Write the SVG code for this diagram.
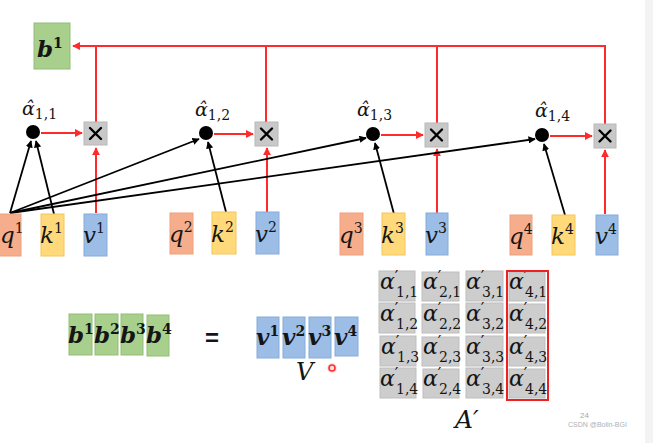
<svg xmlns="http://www.w3.org/2000/svg" width="653" height="443" viewBox="0 0 653 443">
<defs>
<marker id="ar" viewBox="0 0 10 10" refX="9" refY="5" markerWidth="4" markerHeight="4" orient="auto-start-reverse"><path d="M0,0 L10,5 L0,10 z" fill="#ff2a2a"/></marker>
<marker id="ab" viewBox="0 0 10 10" refX="9" refY="5" markerWidth="4" markerHeight="4" orient="auto"><path d="M0,0 L10,5 L0,10 z" fill="#000"/></marker>
<style>
.q{fill:#f6ad8c;stroke:#eea07c;stroke-width:1}
.k{fill:#ffd97a;stroke:#f4c65a;stroke-width:1}
.v{fill:#9bbde6;stroke:#86abdb;stroke-width:1}
.g{fill:#a8cf8c;stroke:#93bd78;stroke-width:1}
.c{fill:#cdcdcd;stroke:#bdbdbd;stroke-width:1}
.m{fill:#c8c8c8;stroke:#b8b8b8;stroke-width:1}
.x{stroke:#000;stroke-width:2.4;stroke-linecap:round}
.r{stroke:#ff2a2a;stroke-width:2;fill:none}
.bl{stroke:#000;stroke-width:1.8;fill:none}
text{font-family:"DejaVu Serif",serif;fill:#151515}
.it{font-style:italic}
.bi{font-style:italic;font-weight:bold}
.L{font-size:23px}
.up{font-style:normal;font-weight:normal}
.sup{font-size:14px;font-style:normal}
.bsup{font-size:14px;font-style:normal;font-weight:bold}
.A{font-size:19px}
.sub{font-size:14px;font-style:normal}
.cell{font-size:22px}
.pr{font-size:16px;font-style:normal}
</style>
</defs>
<rect x="0" y="0" width="653" height="443" fill="#ffffff"/>
<rect x="645" y="0" width="8" height="443" fill="#f3f3f3"/>

<g id="connectors">
<path class="r" d="M605,124 V46 H73" marker-end="url(#ar)"/>
<path class="r" d="M96,122 V47"/>
<path class="r" d="M266,122 V46"/>
<path class="r" d="M437,123 V46"/>
<path class="r" d="M41,133 H82" marker-end="url(#ar)"/>
<path class="r" d="M214,134 H253" marker-end="url(#ar)"/>
<path class="r" d="M381,135 H423" marker-end="url(#ar)"/>
<path class="r" d="M550,136 H592" marker-end="url(#ar)"/>
<path class="r" d="M96,213 V148" marker-end="url(#ar)"/>
<path class="r" d="M267,212 V148" marker-end="url(#ar)"/>
<path class="r" d="M437,213 V149" marker-end="url(#ar)"/>
<path class="r" d="M605,214 V150" marker-end="url(#ar)"/>
<path class="bl" d="M10,213 L31,141" marker-end="url(#ab)"/>
<path class="bl" d="M54,214 L36,141" marker-end="url(#ab)"/>
<path class="bl" d="M10,213 L199,139" marker-end="url(#ab)"/>
<path class="bl" d="M10,213 L366,138" marker-end="url(#ab)"/>
<path class="bl" d="M10,213 L535,139" marker-end="url(#ab)"/>
<path class="bl" d="M226,212 L208,142" marker-end="url(#ab)"/>
<path class="bl" d="M394,214 L375,143" marker-end="url(#ab)"/>
<path class="bl" d="M565,215 L544,144" marker-end="url(#ab)"/>
</g>

<g id="b1top">
<rect class="g" x="34" y="23" width="36" height="46"/>
<text class="bi" x="37" y="57" font-size="23">b<tspan class="bsup" dy="-9">1</tspan></text>
</g>

<g id="alpha-hat-1">
<circle cx="33" cy="132" r="7" fill="#000"/>
<text class="it A" x="22" y="115">α̂<tspan class="sub" dy="4">1,1</tspan></text>
</g>
<g id="alpha-hat-2">
<circle cx="206" cy="133" r="7" fill="#000"/>
<text class="it A" x="195" y="116">α̂<tspan class="sub" dy="4">1,2</tspan></text>
</g>
<g id="alpha-hat-3">
<circle cx="373" cy="134" r="7" fill="#000"/>
<text class="it A" x="357" y="116">α̂<tspan class="sub" dy="4">1,3</tspan></text>
</g>
<g id="alpha-hat-4">
<circle cx="542" cy="135" r="7" fill="#000"/>
<text class="it A" x="535" y="117">α̂<tspan class="sub" dy="4">1,4</tspan></text>
</g>

<g id="mul1"><rect class="m" x="84" y="122" width="23" height="23"/><path class="x" d="M90,128 L101,139 M101,128 L90,139"/></g>
<g id="mul2"><rect class="m" x="255" y="122" width="23" height="24"/><path class="x" d="M261,128.5 L272,139.5 M272,128.5 L261,139.5"/></g>
<g id="mul3"><rect class="m" x="425" y="123" width="23" height="24"/><path class="x" d="M431,129.5 L442,140.5 M442,129.5 L431,140.5"/></g>
<g id="mul4"><rect class="m" x="594" y="124" width="22" height="24"/><path class="x" d="M599.5,130.5 L610.5,141.5 M610.5,130.5 L599.5,141.5"/></g>

<g id="q1"><rect class="q" x="-2" y="214" width="23" height="42"/><text class="it L" x="0" y="243">q<tspan class="sup" dy="-10">1</tspan></text></g>
<g id="k1"><rect class="k" x="41" y="214" width="23" height="42"/><text class="it L" x="40" y="243">k<tspan class="sup" dy="-10">1</tspan></text></g>
<g id="v1"><rect class="v" x="84" y="214" width="23" height="42"/><text class="it L" x="83" y="243">v<tspan class="sup" dy="-10">1</tspan></text></g>
<g id="q2"><rect class="q" x="170" y="213" width="23" height="41"/><text class="it L" x="169" y="242">q<tspan class="sup" dy="-10">2</tspan></text></g>
<g id="k2"><rect class="k" x="212" y="212" width="24" height="42"/><text class="it L" x="211" y="242">k<tspan class="sup" dy="-10">2</tspan></text></g>
<g id="v2"><rect class="v" x="256" y="212" width="23" height="42"/><text class="it L" x="255" y="242">v<tspan class="sup" dy="-10">2</tspan></text></g>
<g id="q3"><rect class="q" x="340" y="213" width="23" height="42"/><text class="it L" x="339" y="243">q<tspan class="sup" dy="-10">3</tspan></text></g>
<g id="k3"><rect class="k" x="382" y="213" width="23" height="42"/><text class="it L" x="381" y="243">k<tspan class="sup" dy="-10">3</tspan></text></g>
<g id="v3"><rect class="v" x="426" y="213" width="22" height="42"/><text class="it L" x="425" y="243">v<tspan class="sup" dy="-10">3</tspan></text></g>
<g id="q4"><rect class="q" x="510" y="215" width="22" height="40"/><text class="it L" x="509" y="244">q<tspan class="sup" dy="-10">4</tspan></text></g>
<g id="k4"><rect class="k" x="552" y="215" width="23" height="40"/><text class="it L" x="551" y="244">k<tspan class="sup" dy="-10">4</tspan></text></g>
<g id="v4"><rect class="v" x="596" y="215" width="22" height="40"/><text class="it L" x="595" y="244">v<tspan class="sup" dy="-10">4</tspan></text></g>

<g id="B-row">
<rect class="g" x="69" y="314" width="23" height="41"/>
<rect class="g" x="95" y="314" width="23" height="41"/>
<rect class="g" x="121" y="314" width="22" height="41"/>
<rect class="g" x="147" y="315" width="22" height="41"/>
<text class="bi" x="68" y="343" font-size="23">b<tspan class="bsup" dy="-9">1</tspan></text>
<text class="bi" x="94" y="343" font-size="23">b<tspan class="bsup" dy="-9">2</tspan></text>
<text class="bi" x="120" y="343" font-size="23">b<tspan class="bsup" dy="-9">3</tspan></text>
<text class="bi" x="146" y="343" font-size="23">b<tspan class="bsup" dy="-9">4</tspan></text>
</g>

<g id="equals"><text x="205" y="346" font-weight="bold" font-size="24" style="font-family:'Liberation Sans',sans-serif">=</text></g>

<g id="V-row">
<rect class="v" x="257" y="317" width="22" height="41"/>
<rect class="v" x="283" y="317" width="22" height="41"/>
<rect class="v" x="309" y="317" width="22" height="41"/>
<rect class="v" x="335" y="317" width="23" height="39"/>
<text class="bi" x="256" y="345" font-size="23">v<tspan class="bsup" dy="-9">1</tspan></text>
<text class="bi" x="282" y="345" font-size="23">v<tspan class="bsup" dy="-9">2</tspan></text>
<text class="bi" x="308" y="345" font-size="23">v<tspan class="bsup" dy="-9">3</tspan></text>
<text class="bi" x="334" y="345" font-size="23">v<tspan class="bsup" dy="-9">4</tspan></text>
<text class="it" x="296" y="380" font-size="24">V</text>
</g>

<g id="pointer">
<circle cx="332" cy="368" r="5" fill="#ffd6d6" opacity="0.8"/>
<circle cx="332" cy="368" r="3" fill="none" stroke="#ff3030" stroke-width="1.6"/>
</g>

<g id="A-matrix">
<g id="cells">
<rect class="c" x="379" y="271" width="36" height="30"/><rect class="c" x="422" y="272" width="37" height="29"/><rect class="c" x="466" y="271" width="37" height="30"/><rect class="c" x="509" y="272" width="36" height="29"/>
<rect class="c" x="379" y="303" width="36" height="30"/><rect class="c" x="422" y="304" width="37" height="29"/><rect class="c" x="466" y="303" width="37" height="30"/><rect class="c" x="509" y="304" width="36" height="29"/>
<rect class="c" x="380" y="336" width="36" height="30"/><rect class="c" x="422" y="337" width="37" height="29"/><rect class="c" x="466" y="336" width="37" height="30"/><rect class="c" x="509" y="337" width="36" height="29"/>
<rect class="c" x="380" y="368" width="36" height="30"/><rect class="c" x="423" y="369" width="36" height="29"/><rect class="c" x="466" y="368" width="37" height="30"/><rect class="c" x="509" y="369" width="36" height="29"/>
</g>
<g id="cell-text">
<text class="it cell" x="380" y="289">α<tspan class="pr" dy="-7">′</tspan><tspan class="sub" x="396" y="297">1,1</tspan></text>
<text class="it cell" x="423" y="289">α<tspan class="pr" dy="-7">′</tspan><tspan class="sub" x="439" y="297">2,1</tspan></text>
<text class="it cell" x="466" y="289">α<tspan class="pr" dy="-7">′</tspan><tspan class="sub" x="482" y="297">3,1</tspan></text>
<text class="it cell" x="509" y="289">α<tspan class="pr" dy="-7">′</tspan><tspan class="sub" x="525" y="297">4,1</tspan></text>

<text class="it cell" x="380" y="321">α<tspan class="pr" dy="-7">′</tspan><tspan class="sub" x="396" y="329">1,2</tspan></text>
<text class="it cell" x="423" y="321">α<tspan class="pr" dy="-7">′</tspan><tspan class="sub" x="439" y="329">2,2</tspan></text>
<text class="it cell" x="466" y="321">α<tspan class="pr" dy="-7">′</tspan><tspan class="sub" x="482" y="329">3,2</tspan></text>
<text class="it cell" x="509" y="321">α<tspan class="pr" dy="-7">′</tspan><tspan class="sub" x="525" y="329">4,2</tspan></text>

<text class="it cell" x="381" y="354">α<tspan class="pr" dy="-7">′</tspan><tspan class="sub" x="397" y="362">1,3</tspan></text>
<text class="it cell" x="423" y="354">α<tspan class="pr" dy="-7">′</tspan><tspan class="sub" x="439" y="362">2,3</tspan></text>
<text class="it cell" x="466" y="354">α<tspan class="pr" dy="-7">′</tspan><tspan class="sub" x="482" y="362">3,3</tspan></text>
<text class="it cell" x="509" y="354">α<tspan class="pr" dy="-7">′</tspan><tspan class="sub" x="525" y="362">4,3</tspan></text>

<text class="it cell" x="380" y="386">α<tspan class="pr" dy="-7">′</tspan><tspan class="sub" x="396" y="394">1,4</tspan></text>
<text class="it cell" x="423" y="386">α<tspan class="pr" dy="-7">′</tspan><tspan class="sub" x="439" y="394">2,4</tspan></text>
<text class="it cell" x="466" y="386">α<tspan class="pr" dy="-7">′</tspan><tspan class="sub" x="482" y="394">3,4</tspan></text>
<text class="it cell" x="509" y="386">α<tspan class="pr" dy="-7">′</tspan><tspan class="sub" x="525" y="394">4,4</tspan></text>
</g>
<rect x="507" y="271" width="41" height="129" fill="none" stroke="#ee2222" stroke-width="2"/>
<text class="it" x="455" y="428" font-size="25">A′</text>
</g>

<g id="watermark">
<text x="568" y="427" font-size="7" style="font-family:'Liberation Sans',sans-serif;fill:#b0b0b0">CSDN @Bolin-BGI</text>
<text x="580" y="418" font-size="8" style="font-family:'Liberation Sans',sans-serif;fill:#a8a8a8">24</text>
</g>
</svg>
